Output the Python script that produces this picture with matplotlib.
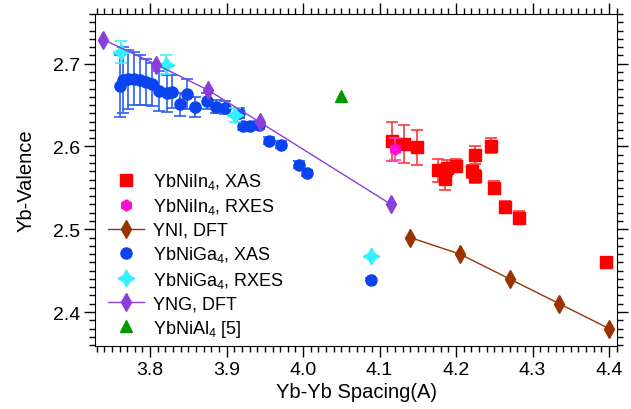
import numpy as np
import matplotlib
matplotlib.use("Agg")
import matplotlib.pyplot as plt
from matplotlib.ticker import MultipleLocator

plt.rcParams['font.family'] = ['Liberation Sans', 'DejaVu Sans']
plt.rcParams['mathtext.fontset'] = 'custom'
plt.rcParams['mathtext.rm'] = 'Liberation Sans'
plt.rcParams['mathtext.default'] = 'regular'

# YbNiIn4, XAS
yni_xas_x = [4.116, 4.132, 4.149, 4.177, 4.186, 4.188, 4.200, 4.221, 4.225, 4.225, 4.246, 4.250, 4.264, 4.282, 4.396]
yni_xas_y = [2.606, 2.603, 2.599, 2.571, 2.561, 2.574, 2.577, 2.570, 2.564, 2.590, 2.601, 2.550, 2.527, 2.514, 2.460]
yni_xas_e = [0.024, 0.023, 0.021, 0.014, 0.013, 0.010, 0.008, 0.008, 0.008, 0.011, 0.009, 0.008, 0.007, 0.008, 0.0]

# YbNiIn4, RXES
yni_rxes_x = [4.120]
yni_rxes_y = [2.597]
yni_rxes_e = [0.013]

# YNI, DFT
yni_dft_x = [4.140, 4.205, 4.270, 4.335, 4.400]
yni_dft_y = [2.490, 2.470, 2.440, 2.410, 2.380]

# YbNiGa4, XAS
yng_xas_x = [3.760, 3.765, 3.771, 3.779, 3.787, 3.794, 3.803, 3.811, 3.822, 3.829,
             3.839, 3.848, 3.859, 3.875, 3.886, 3.898, 3.916, 3.922, 3.931, 3.943,
             3.956, 3.971, 3.995, 4.005, 4.089]
yng_xas_y = [2.673, 2.680, 2.681, 2.682, 2.680, 2.678, 2.675, 2.667, 2.664, 2.666,
             2.651, 2.663, 2.648, 2.655, 2.648, 2.647, 2.640, 2.625, 2.625, 2.626,
             2.607, 2.602, 2.578, 2.568, 2.439]
yng_xas_e = [0.038, 0.040, 0.036, 0.032, 0.030, 0.028, 0.026, 0.024, 0.022, 0.020,
             0.014, 0.018, 0.012, 0.010, 0.008, 0.008, 0.006, 0.005, 0.005, 0.005,
             0.004, 0.004, 0.004, 0.004, 0.002]

# YbNiGa4, RXES
yng_rxes_x = [3.762, 3.821, 3.911, 4.089]
yng_rxes_y = [2.714, 2.699, 2.638, 2.468]
yng_rxes_e = [0.013, 0.011, 0.008, 0.0]

# YNG, DFT
yng_dft_x = [3.739, 3.808, 3.876, 3.944, 4.115]
yng_dft_y = [2.729, 2.699, 2.668, 2.629, 2.530]

# YbNiAl4 [5]
ynal_x = [4.050]
ynal_y = [2.661]

fig = plt.figure(figsize=(6.31, 4.10), dpi=100)
ax = fig.add_axes([0.1506, 0.1537, 0.8274, 0.8097])

blue_eb = ax.errorbar(yng_xas_x, yng_xas_y, yerr=yng_xas_e, fmt='o', color='#0a44ee',
                      ecolor='#2e5ff2', elinewidth=1.2, capsize=4, capthick=1.2, ms=8, zorder=3)
cyan_eb = ax.errorbar(yng_rxes_x, yng_rxes_y, yerr=yng_rxes_e, fmt='none',
                      ecolor='#44eeff', elinewidth=1.2, capsize=4, capthick=1.2, zorder=4)
cyan, = ax.plot(yng_rxes_x, yng_rxes_y, ls='none', marker=(4, 1, 0), ms=12,
                color='#33f0ff', zorder=4)
yng_line, = ax.plot(yng_dft_x, yng_dft_y, '-', color='#8a3fdc', lw=1.0, marker='d',
                    ms=9, zorder=5)
red_eb = ax.errorbar(yni_xas_x, yni_xas_y, yerr=yni_xas_e, fmt='s', color='#ff0000',
                     ecolor='#ff3a3a', elinewidth=1.2, capsize=4, capthick=1.2, ms=8, zorder=3)
mag_eb = ax.errorbar(yni_rxes_x, yni_rxes_y, yerr=yni_rxes_e, fmt='h', color='#ff10d0',
                     ecolor='#ff40e0', elinewidth=1.2, capsize=4, capthick=1.2, ms=8, zorder=4)
yni_line, = ax.plot(yni_dft_x, yni_dft_y, '-', color='#993300', lw=1.0, marker='d',
                    ms=9, zorder=5)
green, = ax.plot(ynal_x, ynal_y, ls='none', marker='^', ms=9, color='#009900', zorder=5)

ax.set_xlim(3.728, 4.4105)
ax.set_ylim(2.359, 2.760)

ax.xaxis.set_major_locator(MultipleLocator(0.1))
ax.xaxis.set_minor_locator(MultipleLocator(0.01))
ax.yaxis.set_major_locator(MultipleLocator(0.1))
ax.yaxis.set_minor_locator(MultipleLocator(0.01))
ax.tick_params(which='both', direction='out', top=True, right=True, labelsize=14, width=1)
ax.tick_params(which='major', length=8, pad=3)
ax.tick_params(which='minor', length=4)
ax.xaxis.set_major_formatter(plt.FuncFormatter(lambda v, p: f"{v:.1f}"))
ax.yaxis.set_major_formatter(plt.FuncFormatter(lambda v, p: f"{v:.1f}"))

ax.set_xlabel('Yb-Yb Spacing(A)', fontsize=14.5, labelpad=3)
ax.set_ylabel('Yb-Valence', fontsize=14.5, labelpad=12)

handles = [red_eb[0], mag_eb[0], yni_line, blue_eb[0], cyan, yng_line, green]
labels = ['YbNiIn$_4$, XAS', 'YbNiIn$_4$, RXES', 'YNI, DFT', 'YbNiGa$_4$, XAS',
          'YbNiGa$_4$, RXES', 'YNG, DFT', 'YbNiAl$_4$ [5]']
ax.legend(handles, labels, loc='upper left', bbox_to_anchor=(0.0, 0.565), frameon=False,
          fontsize=13, labelspacing=0.3, handlelength=2.0, handletextpad=0.5,
          borderaxespad=0.3)

fig.savefig('out.png', dpi=100)
